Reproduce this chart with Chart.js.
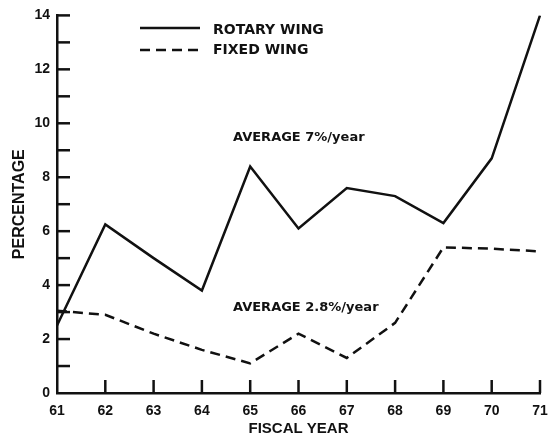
<!DOCTYPE html>
<html>
<head>
<meta charset="utf-8">
<script src="https://cdn.jsdelivr.net/npm/chart.js@4.4.1/dist/chart.umd.min.js"></script>
<style>
  html, body { margin: 0; padding: 0; background: #fff; }
  #wrap { width: 548px; height: 443px; }
</style>
</head>
<body>
<div id="wrap"><canvas id="myChart"></canvas></div>
<script>
// fiscal years along the bottom axis
const years = ['61', '62', '63', '64', '65', '66', '67', '68', '69', '70', '71'];
// percentages
const rotaryWing = [2.5, 6.25, 5.0, 3.8, 8.4, 6.1, 7.6, 7.3, 6.3, 8.7, 14.0];
const fixedWing = [3.05, 2.9, 2.2, 1.6, 1.1, 2.2, 1.3, 2.6, 5.4, 5.35, 5.25];
const yTickLabels = ['0', '2', '4', '6', '8', '10', '12', '14'];

const ink = '#111';
const sans = '"Liberation Sans", Arial, sans-serif';
const wide = '"DejaVu Sans", sans-serif';

// tick marks point inward, drawn from the scales
const innerTicks = {
    id: 'innerTicks',
    afterDraw(chart) {
        const c = chart.ctx, a = chart.chartArea;
        const x = chart.scales.x, y = chart.scales.y;
        c.save();
        c.strokeStyle = ink;
        c.lineWidth = 2.5;
        for (let v = 1; v <= 14; v++) {
            const py = y.getPixelForValue(v);
            c.beginPath(); c.moveTo(a.left, py); c.lineTo(a.left + 13, py); c.stroke();
        }
        for (let i = 1; i < years.length; i++) {
            const px = x.getPixelForValue(i);
            c.beginPath(); c.moveTo(px, a.bottom); c.lineTo(px, a.bottom - 13); c.stroke();
        }
        c.restore();
    }
};

// legend and the two "average" notes
const notes = {
    id: 'notes',
    afterDraw(chart) {
        const c = chart.ctx;
        c.save();
        c.strokeStyle = ink;
        c.fillStyle = ink;
        c.lineWidth = 2.5;
        c.beginPath(); c.moveTo(140, 28); c.lineTo(200, 28); c.stroke();
        c.setLineDash([10, 6]);
        c.beginPath(); c.moveTo(140, 50); c.lineTo(200, 50); c.stroke();
        c.setLineDash([]);
        c.textBaseline = 'middle';
        c.font = 'bold 14px ' + wide;
        c.fillText('ROTARY WING', 213, 30);
        c.fillText('FIXED WING', 213, 50);
        c.font = 'bold 13px ' + wide;
        c.fillText('AVERAGE 7%/year', 233, 138);
        c.fillText('AVERAGE 2.8%/year', 233, 308);
        c.restore();
    }
};

const ctx = document.getElementById('myChart');

new Chart(ctx, {
    type: 'line',
    data: {
        labels: years,
        datasets: [{
            label: 'ROTARY WING',
            data: rotaryWing,
            borderColor: ink,
            borderWidth: 2.5,
            pointRadius: 0,
            tension: 0
        }, {
            label: 'FIXED WING',
            data: fixedWing,
            borderColor: ink,
            borderWidth: 2.5,
            borderDash: [10, 6],
            pointRadius: 0,
            tension: 0
        }]
    },
    options: {
        responsive: true,
        maintainAspectRatio: false,
        animation: false,
        layout: { padding: { top: 15, right: 8, left: 0, bottom: 0 } },
        plugins: {
            legend: { display: false },
            tooltip: { enabled: false }
        },
        scales: {
            x: {
                offset: false,
                grid: { display: false, drawTicks: false },
                border: { display: true, color: ink, width: 2.5 },
                ticks: {
                    color: ink,
                    padding: 10,
                    maxRotation: 0,
                    autoSkip: false,
                    font: { family: sans, size: 14, weight: 'bold' }
                },
                title: {
                    display: true,
                    text: 'FISCAL YEAR',
                    color: ink,
                    padding: { top: 2, bottom: 5 },
                    font: { family: sans, size: 15, weight: 'bold' }
                },
                afterFit: s => { s.height = 50; s.paddingRight = 0; }
            },
            y: {
                min: 0,
                max: 14,
                grid: { display: false, drawTicks: false },
                border: { display: true, color: ink, width: 2.5 },
                ticks: {
                    stepSize: 2,
                    color: ink,
                    padding: 7,
                    font: { family: sans, size: 14, weight: 'bold' },
                    callback: (v) => yTickLabels[v / 2]
                },
                title: {
                    display: true,
                    text: 'PERCENTAGE',
                    color: ink,
                    padding: { top: 10, bottom: 0 },
                    font: { family: sans, size: 16, weight: 'bold' }
                },
                afterFit: s => { s.width = 57; }
            }
        }
    },
    plugins: [innerTicks, notes]
});
</script>
</body>
</html>
